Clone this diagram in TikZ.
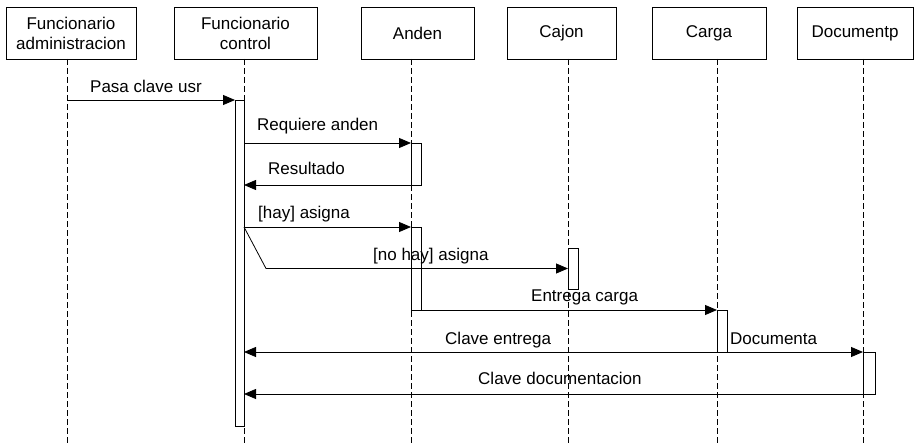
\documentclass[tikz,border=0pt]{standalone}
\usepackage{fontspec}
\setmainfont{Liberation Sans}
\usetikzlibrary{arrows.meta}
\begin{document}
\begin{tikzpicture}[x=1pt,y=-1pt,
  txt/.style={font=\fontsize{17}{20}\selectfont},
  actor/.style={txt, draw=black, line width=0.8pt, fill=white, minimum height=52pt,
    inner sep=0pt, outer sep=0pt, align=center},
  life/.style={draw=black, line width=0.9pt, dash pattern=on 6pt off 3pt},
  bar/.style={draw=black, line width=0.9pt, fill=white, inner sep=0pt, outer sep=0pt,
    anchor=north west},
  msg/.style={draw=black, line width=0.8pt, -{Triangle[length=12pt,width=10pt]}},
  lbl/.style={txt, inner sep=0pt, anchor=base west}]
\useasboundingbox (0,0) rectangle (914,444);

% participants
\node[actor, minimum width=130pt] (fa)  at (71,33)    {Funcionario\\administracion};
\node[actor, minimum width=143pt] (fc)  at (245.5,33) {Funcionario\\control};
\node[actor, minimum width=113pt] (an)  at (417.5,33) {Anden};
\node[actor, minimum width=109pt] (cj)  at (561.5,33) {Cajon};
\node[actor, minimum width=114pt] (cg)  at (709,33)   {Carga};
\node[actor, minimum width=116pt] (dc)  at (855,33)   {Documentp};

% lifelines
\coordinate (lfa) at (67,444);
\coordinate (lfc) at (244,444);
\coordinate (lan) at (411,444);
\coordinate (lcj) at (568,444);
\coordinate (lcg) at (717,444);
\coordinate (ldc) at (863,444);
\draw[life] (lfa |- fa.south) -- (lfa);
\draw[life] (lfc |- fc.south) -- (lfc);
\draw[life] (lan |- an.south) -- (lan);
\draw[life] (lcj |- cj.south) -- (lcj);
\draw[life] (lcg |- cg.south) -- (lcg);
\draw[life] (ldc |- dc.south) -- (ldc);

% activation bars
\node[bar, minimum width=9pt,  minimum height=326pt] (bctl) at (235,100) {};
\node[bar, minimum width=10pt, minimum height=42pt]  (ban1) at (411,143) {};
\node[bar, minimum width=10pt, minimum height=83pt]  (ban2) at (411,227) {};
\node[bar, minimum width=10pt, minimum height=41pt]  (bcaj) at (568,248) {};
\node[bar, minimum width=10pt, minimum height=42pt]  (bcar) at (717,310) {};
\node[bar, minimum width=12pt, minimum height=42pt]  (bdoc) at (863,352) {};

% messages
\draw[msg] (lfa |- bctl.north) -- (bctl.north west);
\node[lbl] (t1) at (90,93) {Pasa clave usr};

\draw[msg] (bctl.east |- ban1.north) -- (ban1.north west);
\node[lbl] (t2) at (257,130) {Requiere anden};

\draw[msg] (ban1.south east) -- (bctl.east |- ban1.south);
\node[lbl] (t3) at (268,174) {Resultado};

\draw[msg] (bctl.east |- ban2.north) -- (ban2.north west);
\node[lbl] (t4) at (258,218) {[hay] asigna};

\coordinate (kink) at (266,268.5);
\draw[msg] (bctl.east |- ban2.north) -- (kink) -- (bcaj.west);
\node[lbl] (t5) at (373,260) {[no hay] asigna};

\draw[msg] (ban2.south east) -- (bcar.north west);
\node[lbl] (t6) at (531,301) {Entrega carga};

\draw[msg] (bcar.south east) -- (bdoc.north west);
\node[lbl] (t7) at (730,344) {Documenta};

\draw[msg] (bcar.south west) -- (bctl.east |- bcar.south);
\node[lbl] (t8) at (445,344) {Clave entrega};

\draw[msg] (bdoc.south west) -- (bctl.east |- bdoc.south);
\node[lbl] (t9) at (478,384) {Clave documentacion};
\end{tikzpicture}
\end{document}
